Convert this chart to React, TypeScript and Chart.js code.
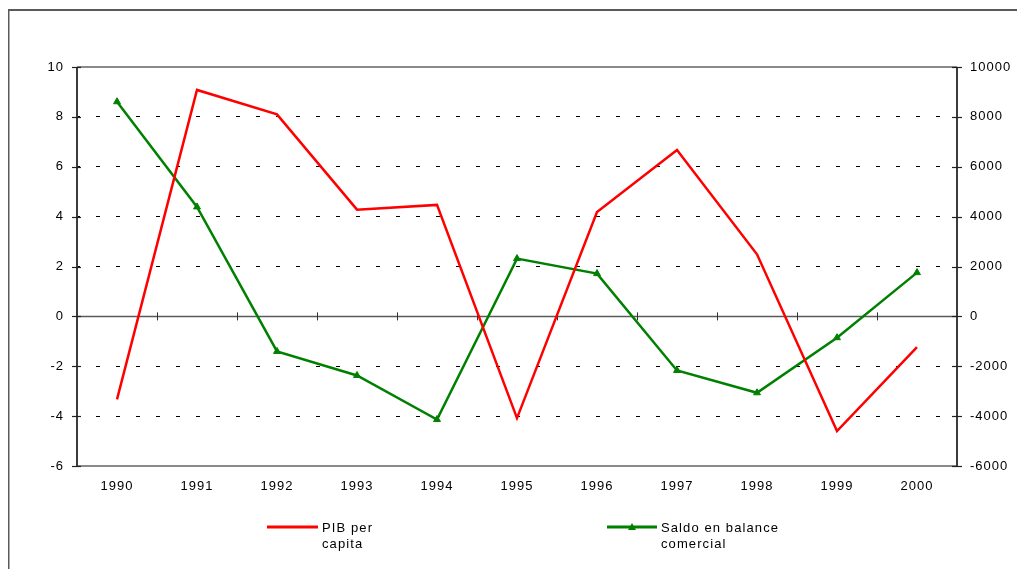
import React, { useEffect, useRef } from "react";
import { Chart, registerables } from "chart.js";

Chart.register(...registerables);

const years = ["1990", "1991", "1992", "1993", "1994", "1995", "1996", "1997", "1998", "1999", "2000"];
const pibPerCapita = [-3.33, 9.08, 8.1, 4.28, 4.47, -4.08, 4.18, 6.67, 2.49, -4.6, -1.23];
const saldoBalance = [8606, 4390, -1406, -2370, -4137, 2317, 1715, -2169, -3064, -855, 1755];
const leftTicks = [-6, -4, -2, 0, 2, 4, 6, 8, 10];
const rightTicks = [-6000, -4000, -2000, 0, 2000, 4000, 6000, 8000, 10000];
const legendLabels = [["PIB per", "capita"], ["Saldo en balance", "comercial"]];

const FONT = "'Liberation Sans', Arial, sans-serif";

const framePlugin = {
  id: "frame",
  beforeDraw(chart: any) {
    const ctx = chart.ctx;
    ctx.letterSpacing = "1px";
  },
  beforeDatasetsDraw(chart: any) {
    const ctx = chart.ctx;
    const a = chart.chartArea;
    const y = chart.scales.y;
    const y1 = chart.scales.y1;
    const x = chart.scales.x;
    ctx.save();
    // zero line
    const y0 = y.getPixelForValue(0);
    ctx.strokeStyle = "#5a5a5a";
    ctx.lineWidth = 1.5;
    ctx.beginPath();
    ctx.moveTo(a.left, y0);
    ctx.lineTo(a.right, y0);
    ctx.stroke();
    ctx.lineWidth = 1;
    ctx.strokeStyle = "#333";
    for (let i = 1; i < years.length; i++) {
      const xb = Math.round((x.getPixelForValue(i - 1) + x.getPixelForValue(i)) / 2) + 0.5;
      ctx.beginPath();
      ctx.moveTo(xb, y0 - 4);
      ctx.lineTo(xb, y0 + 4);
      ctx.stroke();
    }
    // top & bottom borders
    ctx.strokeStyle = "#8a8a8a";
    ctx.lineWidth = 2;
    ctx.beginPath();
    ctx.moveTo(a.left, a.top);
    ctx.lineTo(a.right, a.top);
    ctx.moveTo(a.left, a.bottom);
    ctx.lineTo(a.right, a.bottom);
    ctx.stroke();
    // axes
    ctx.strokeStyle = "#3c3c3c";
    ctx.beginPath();
    ctx.moveTo(a.left, a.top);
    ctx.lineTo(a.left, a.bottom + 1);
    ctx.moveTo(a.right, a.top);
    ctx.lineTo(a.right, a.bottom + 1);
    ctx.stroke();
    // tick marks
    ctx.lineWidth = 1.2;
    ctx.strokeStyle = "#222";
    leftTicks.forEach((v) => {
      const py = Math.round(y.getPixelForValue(v)) + 0.5;
      ctx.beginPath();
      ctx.moveTo(a.left - 5, py);
      ctx.lineTo(a.left + 4, py);
      ctx.stroke();
    });
    rightTicks.forEach((v) => {
      const py = Math.round(y1.getPixelForValue(v)) + 0.5;
      ctx.beginPath();
      ctx.moveTo(a.right - 5, py);
      ctx.lineTo(a.right + 5, py);
      ctx.stroke();
    });
    ctx.restore();
  },
  afterDraw(chart: any) {
    const ctx = chart.ctx;
    ctx.save();
    // outer frame
    ctx.strokeStyle = "#5a5a5a";
    ctx.lineWidth = 2;
    ctx.beginPath();
    ctx.moveTo(8, 10);
    ctx.lineTo(1017, 10);
    ctx.stroke();
    ctx.lineWidth = 1.5;
    ctx.beginPath();
    ctx.moveTo(8.75, 10);
    ctx.lineTo(8.75, 569);
    ctx.stroke();
    // legend
    const ds = chart.data.datasets;
    const items = [
      { x0: 267, x1: 318, tx: 322, color: ds[0].borderColor, marker: false, lines: legendLabels[0] },
      { x0: 607, x1: 657, tx: 661, color: ds[1].borderColor, marker: true, lines: legendLabels[1] },
    ];
    const ly = 528;
    items.forEach((it) => {
      ctx.strokeStyle = it.color;
      ctx.lineWidth = 3;
      ctx.beginPath();
      ctx.moveTo(it.x0, ly - 1);
      ctx.lineTo(it.x1, ly - 1);
      ctx.stroke();
      if (it.marker) {
        const cx = (it.x0 + it.x1) / 2;
        ctx.fillStyle = it.color;
        ctx.beginPath();
        ctx.moveTo(cx, ly - 5);
        ctx.lineTo(cx + 4, ly + 2);
        ctx.lineTo(cx - 4, ly + 2);
        ctx.closePath();
        ctx.fill();
      }
      ctx.fillStyle = "#000";
      ctx.font = `13px ${FONT}`;
      ctx.letterSpacing = "1.1px";
      ctx.textAlign = "left";
      ctx.textBaseline = "middle";
      it.lines.forEach((t, i) => {
        ctx.fillText(t, it.tx, ly + i * 16);
      });
    });
    ctx.restore();
  },
};

export default function App() {
  const ref = useRef<HTMLCanvasElement>(null);
  useEffect(() => {
    if (!ref.current) return;
    const chart = new Chart(ref.current, {
      type: "line",
      data: {
        labels: years,
        datasets: [
          {
            label: "PIB per capita",
            data: pibPerCapita,
            yAxisID: "y",
            borderColor: "#ff0000",
            backgroundColor: "#ff0000",
            borderWidth: 2.5,
            pointRadius: 0,
            tension: 0,
          },
          {
            label: "Saldo en balance comercial",
            data: saldoBalance,
            yAxisID: "y1",
            borderColor: "#008000",
            backgroundColor: "#008000",
            borderWidth: 2.5,
            pointStyle: "triangle",
            pointRadius: 4,
            pointBorderWidth: 1,
            tension: 0,
          },
        ],
      },
      options: {
        responsive: false,
        animation: false,
        layout: { padding: { left: 0, right: 0, top: 67, bottom: 0 } },
        plugins: {
          legend: { display: false },
          title: { display: false },
          tooltip: { enabled: false },
        },
        scales: {
          x: {
            type: "category",
            offset: true,
            grid: { display: false },
            border: { display: false },
            ticks: {
              color: "#000",
              font: { family: FONT, size: 13 },
              padding: 5,
              maxRotation: 0,
              autoSkip: false,
            },
            afterFit: (s: any) => {
              s.height = 103;
            },
          },
          y: {
            position: "left",
            min: -6,
            max: 10,
            ticks: {
              stepSize: 2,
              color: "#000",
              font: { family: FONT, size: 13 },
              padding: 13,
            },
            grid: {
              drawTicks: false,
              lineWidth: 1,
              color: (c: any) => {
                const v = c.tick && c.tick.value;
                return v === 0 || v === 10 || v === -6 ? "rgba(0,0,0,0)" : "#000";
              },
            },
            border: { display: false, dash: [4, 16], dashOffset: 1 },
            afterFit: (s: any) => {
              s.width = 77;
            },
          },
          y1: {
            position: "right",
            min: -6000,
            max: 10000,
            ticks: {
              stepSize: 2000,
              color: "#000",
              font: { family: FONT, size: 13 },
              padding: 13,
              callback: (v: any) => String(v),
            },
            grid: { drawOnChartArea: false, drawTicks: false },
            border: { display: false },
            afterFit: (s: any) => {
              s.width = 60;
            },
          },
        },
      },
      plugins: [framePlugin],
    });
    return () => chart.destroy();
  }, []);
  return (
    <div style={{ position: "absolute", left: 0, top: 0, width: 1017, height: 569, background: "#fff" }}>
      <canvas ref={ref} width={1017} height={569} style={{ display: "block" }} />
    </div>
  );
}
